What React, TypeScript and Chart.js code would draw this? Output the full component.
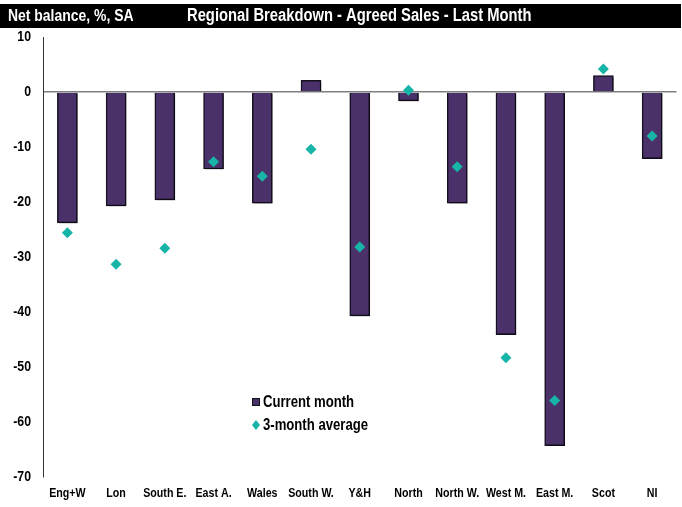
import React, { useEffect, useRef } from "react";
import { Chart, registerables } from "chart.js";

Chart.register(...registerables);

const categories = ["Eng+W", "Lon", "South E.", "East A.", "Wales", "South W.", "Y&H", "North", "North W.", "West M.", "East M.", "Scot", "NI"];
const currentMonth = [-23.8, -20.7, -19.6, -14.0, -20.2, 2.1, -40.7, -1.6, -20.2, -44.1, -64.3, 3.0, -12.1];
const threeMonthAvg = [-25.6, -31.3, -28.4, -12.7, -15.3, -10.4, -28.2, 0.3, -13.6, -48.3, -56.1, 4.2, -8.0];
const yTicks = [10, 0, -10, -20, -30, -40, -50, -60, -70];
const leftTitle = "Net balance, %, SA";
const mainTitle = "Regional Breakdown - Agreed Sales - Last Month";

const FONT = "'Liberation Sans', Arial, sans-serif";
const NARROW = 0.82;
const BAR_COLOR = "#4b3169";
const DOT_COLOR = "#17b5a8";

function narrowText(ctx: any, text: string, x: number, y: number, size: number, align: string, color: string) {
  ctx.save();
  ctx.font = `bold ${size}px ${FONT}`;
  ctx.fillStyle = color;
  ctx.textBaseline = "middle";
  ctx.textAlign = align;
  ctx.translate(x, y);
  ctx.scale(NARROW, 1);
  ctx.fillText(text, 0, 0);
  ctx.restore();
}

const barShadow = {
  id: "barShadow",
  beforeDatasetDraw(chart: any, args: any) {
    if (args.index !== 0) return;
    const ctx = chart.ctx;
    ctx.save();
    ctx.shadowColor = "rgba(0,0,0,0.3)";
    ctx.shadowOffsetX = 1.5;
    ctx.shadowOffsetY = 1.5;
    ctx.shadowBlur = 1;
  },
  afterDatasetDraw(chart: any, args: any) {
    if (args.index !== 0) return;
    chart.ctx.restore();
  },
};

const overlay = {
  id: "overlay",
  afterDraw(chart: any) {
    const ctx = chart.ctx;
    ctx.save();
    // header band
    ctx.fillStyle = "#000";
    ctx.fillRect(0, 4, 681, 24);
    narrowText(ctx, leftTitle, 8, 16.5, 17, "left", "#fff");
    narrowText(ctx, mainTitle, 187, 16.5, 18, "left", "#fff");
    // axis tick labels
    const xs = chart.scales.x;
    const ys = chart.scales.y;
    chart.data.labels.forEach((lab: string, i: number) => {
      narrowText(ctx, lab, xs.getPixelForTick(i), 493, 13, "center", "#000");
    });
    yTicks.forEach((v) => {
      narrowText(ctx, String(v), 31, ys.getPixelForValue(v), 15, "right", "#000");
    });
    // legend
    const ds = chart.data.datasets;
    ctx.fillStyle = BAR_COLOR;
    ctx.fillRect(252, 398, 8, 8);
    ctx.strokeStyle = "#111";
    ctx.lineWidth = 1;
    ctx.strokeRect(252.5, 398.5, 7, 7);
    narrowText(ctx, ds[0].label, 263, 403, 16, "left", "#000");
    ctx.fillStyle = DOT_COLOR;
    ctx.beginPath();
    ctx.moveTo(256, 420);
    ctx.lineTo(260, 425);
    ctx.lineTo(256, 430);
    ctx.lineTo(252, 425);
    ctx.closePath();
    ctx.fill();
    narrowText(ctx, ds[1].label, 263, 426, 16, "left", "#000");
    ctx.restore();
  },
};

export default function App() {
  const ref = useRef<HTMLCanvasElement | null>(null);
  useEffect(() => {
    if (!ref.current) return;
    const chart = new Chart(ref.current, {
      type: "bar",
      data: {
        labels: categories,
        datasets: [
          {
            type: "bar",
            label: "Current month",
            data: currentMonth,
            backgroundColor: BAR_COLOR,
            borderColor: "#15101f",
            borderWidth: 1.5,
            barThickness: 20,
            order: 2,
          },
          {
            type: "line",
            label: "3-month average",
            data: threeMonthAvg,
            showLine: false,
            pointStyle: "rectRot",
            pointRadius: 5.5,
            pointBackgroundColor: DOT_COLOR,
            pointBorderColor: DOT_COLOR,
            pointBorderWidth: 0,
            order: 1,
          } as any,
        ],
      },
      options: {
        animation: false,
        responsive: false,
        maintainAspectRatio: false,
        layout: { padding: { top: 37, right: 5, left: 0, bottom: 0 } },
        plugins: { legend: { display: false }, tooltip: { enabled: false }, title: { display: false } },
        scales: {
          x: {
            grid: { display: false },
            border: { display: false },
            ticks: {
              color: "rgba(0,0,0,0)",
              font: { family: FONT, size: 8 },
              padding: 0,
              maxRotation: 0,
              autoSkip: false,
            },
            afterFit(scale: any) {
              scale.height = 30;
            },
          },
          y: {
            min: -70,
            max: 10,
            afterBuildTicks(scale: any) {
              scale.ticks = yTicks.map((v) => ({ value: v }));
            },
            grid: {
              drawTicks: false,
              color: (c: any) => (c.tick && c.tick.value === 0 ? "#808080" : "rgba(0,0,0,0)"),
              lineWidth: 1.5,
            },
            border: { display: true, color: "#333", width: 1 },
            ticks: {
              color: "rgba(0,0,0,0)",
              font: { family: FONT, size: 8 },
              padding: 12,
            },
            afterFit(scale: any) {
              scale.width = 43;
            },
          },
        },
      },
      plugins: [barShadow, overlay],
    });
    return () => chart.destroy();
  }, []);
  return (
    <div style={{ position: "fixed", left: 0, top: 0, width: 682, height: 507, background: "#fff" }}>
      <canvas ref={ref} width={682} height={507} style={{ width: 682, height: 507 }} />
    </div>
  );
}
